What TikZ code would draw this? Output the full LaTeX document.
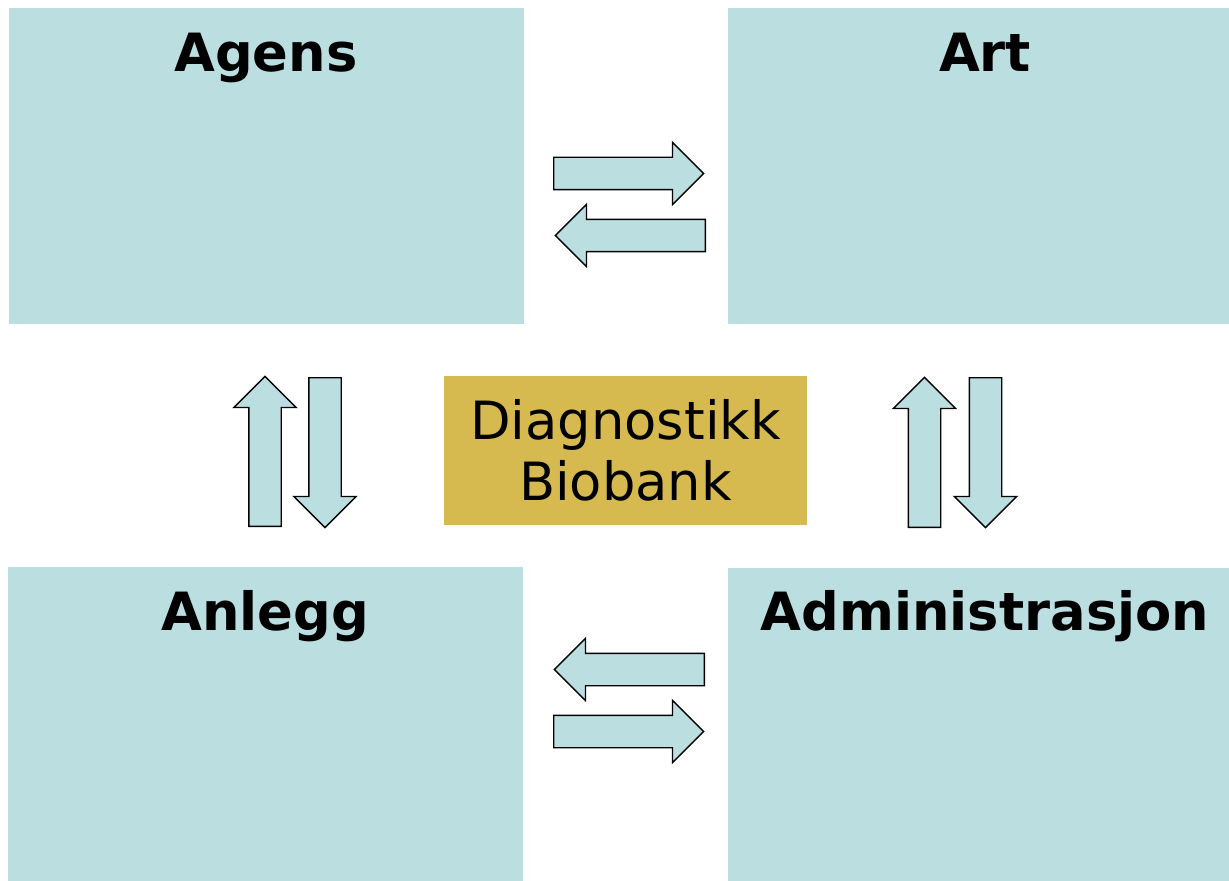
\documentclass[tikz,border=0pt]{standalone}
\usepackage{fontspec}
\setmainfont{DejaVu Sans}
\usetikzlibrary{shapes.arrows}
\definecolor{boxblue}{RGB}{187,222,225}
\definecolor{boxgold}{RGB}{214,185,79}
\tikzset{
	area/.style={fill=boxblue, anchor=north west, inner sep=0pt},
	areatitle/.style={anchor=base, font=\fontsize{30}{36}\selectfont\bfseries},
	blockarrow/.style={single arrow, draw=black, fill=boxblue, line width=0.8pt,
		line join=miter, minimum height=3.0cm, minimum width=1.22cm,
		single arrow head extend=0.3cm, inner sep=0.31cm, anchor=tail}
}
\begin{document}
\begin{tikzpicture}[x=0.02cm, y=-0.02cm, font=\fontsize{30}{35}\selectfont]
	\useasboundingbox (0,0) rectangle (1229,881);
	% the four areas
	\node[area, minimum width=10.30cm, minimum height=6.32cm] (agens) at (9,8) {};
	\node[area, minimum width=10.02cm, minimum height=6.32cm] (art) at (728,8) {};
	\node[area, minimum width=10.30cm, minimum height=6.28cm] (anlegg) at (8,567) {};
	\node[area, minimum width=10.02cm, minimum height=6.26cm] (admin) at (728,568) {};
	\node[areatitle] (agenstitle) at (266,72) {Agens};
	\node[areatitle] (arttitle) at (985,72) {Art};
	\node[areatitle] (anleggtitle) at (265,630) {Anlegg};
	\node[areatitle] (admintitle) at (985,630) {Administrasjon};
	% centre
	\node[fill=boxgold, minimum width=7.26cm, minimum height=2.98cm, inner sep=0pt,
		align=center] (diag) at (625.5,450.5) {Diagnostikk\\Biobank};
	% block arrows, placed by their tails
	\foreach \n/\x/\y/\r in {toart/553/173.5/0, toagens/706/235.5/180,
		toanlegg/705/669.5/180, toadmin/553/731.5/0,
		upagens/265/527/90, downanlegg/325/377/-90,
		upart/924.5/528/90, downadmin/985.5/377/-90}
	\node[blockarrow, rotate=\r] (\n) at (\x,\y) {};
\end{tikzpicture}
\end{document}
